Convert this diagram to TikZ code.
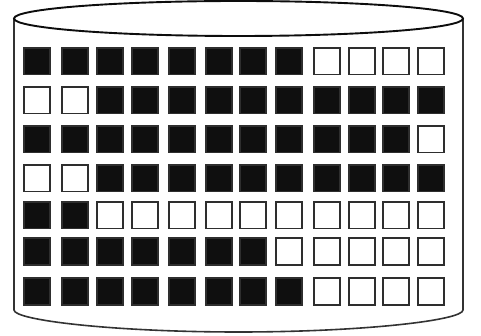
\documentclass[tikz,border=0pt]{standalone}
\begin{document}
\begin{tikzpicture}[x=1pt,y=-1pt,
  cell/.style={draw=black!82, line width=1.7pt, minimum width=26.3pt, minimum height=26.8pt, inner sep=0pt, outer sep=0pt, anchor=north west},
  on/.style={cell, fill=black!94},
  off/.style={cell, fill=white},
  rim/.style={line width=1.9pt, draw=black!95},
  wall/.style={line width=1.6pt, draw=black!80, rounded corners=4pt}]
\useasboundingbox (0,0) rectangle (481,336);
% cylinder
\draw[wall] (14,18) -- (14,306) arc[start angle=180, end angle=0, x radius=224.5, y radius=26] -- (463,18);
\draw[rim] (238.5,18.5) ellipse [x radius=224.5, y radius=17.5];
% cells
\foreach \k/\v [count=\i] in {8/0,2/1,11/0,2/1,2/0,7/0,8/0}{
  \foreach \j in {1,...,12}{
    \pgfmathsetmacro\cx{{23,61,96,131,168,205,239,275,313,348,382,417}[\j-1]+0.85}
    \pgfmathsetmacro\cy{{47,86,125,164,201,237,277}[\i-1]+0.85}
    \pgfmathtruncatemacro\blk{abs((\j<=\k)-\v)}
    \ifnum\blk=1 \def\st{on}\else\def\st{off}\fi
    \node[\st] (c\i-\j) at (\cx,\cy) {};
  }
}
\end{tikzpicture}
\end{document}
